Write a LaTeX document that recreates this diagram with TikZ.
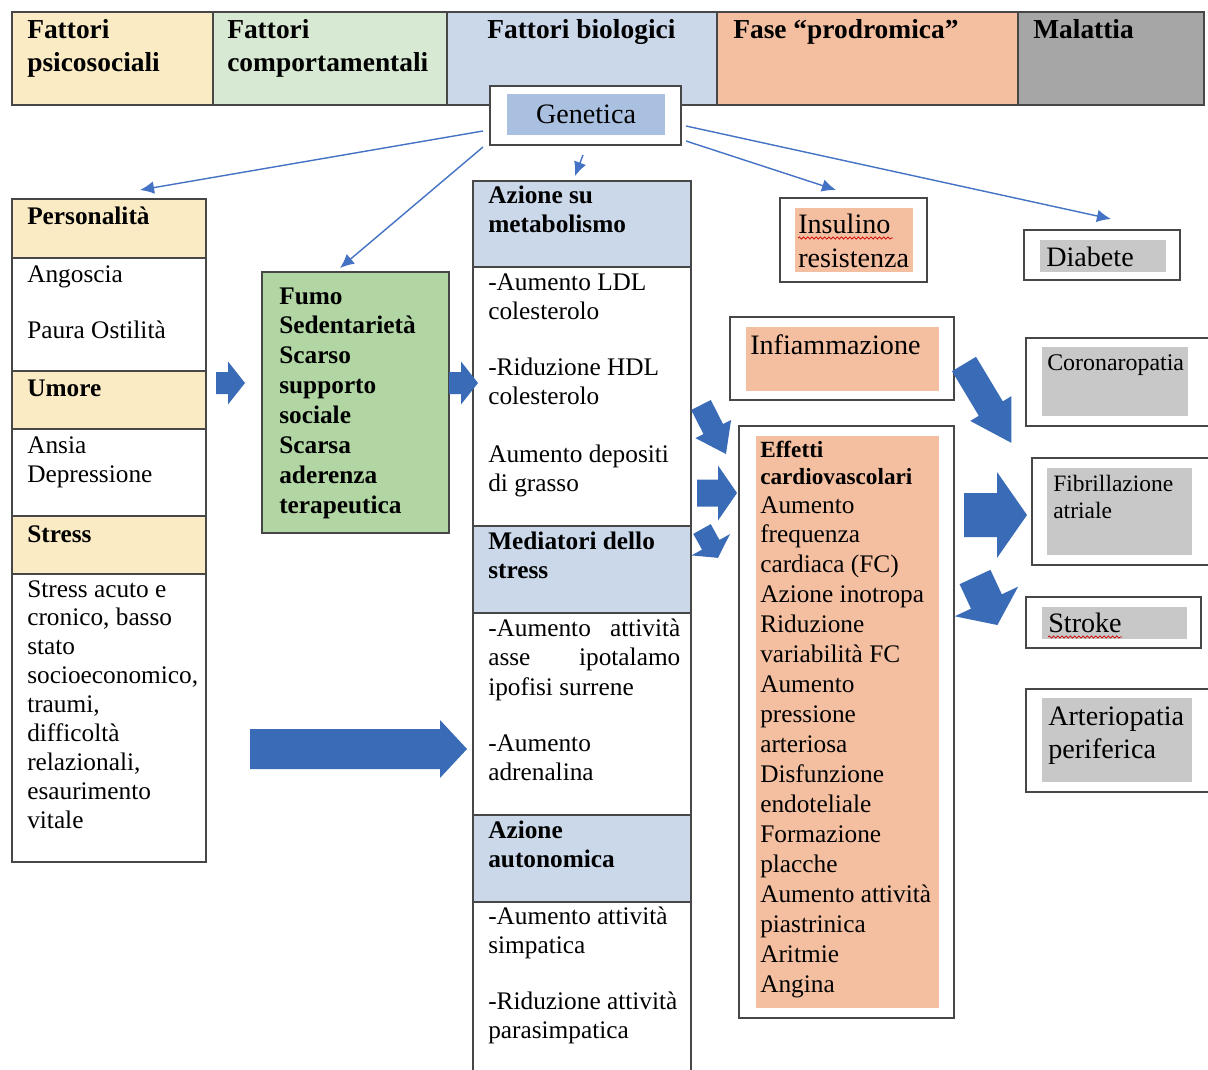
\documentclass[tikz,border=0pt]{standalone}
\usepackage{fontspec}
\setmainfont{Liberation Serif}
\usepackage{tikz}
\usetikzlibrary{positioning,calc,arrows.meta,decorations.pathmorphing}

\definecolor{psygiallo}{HTML}{FAEBC5}
\definecolor{compverde}{HTML}{D7E8D3}
\definecolor{bioblu}{HTML}{CBD8EA}
\definecolor{prodsalmone}{HTML}{F4BFA0}
\definecolor{malgrigio}{HTML}{A6A6A6}
\definecolor{fumoverde}{HTML}{B1D5A3}
\definecolor{genblu}{HTML}{A9C0E1}
\definecolor{grigiochiaro}{HTML}{C8C8C8}
\definecolor{freccia}{HTML}{4472C4}
\definecolor{blocco}{HTML}{3A6BB6}

% freccia piena: (coda), angolo, lunghezza, lunghezza punta, mezzo fusto, mezza punta
\newcommand{\frecciona}[6]{%
  \fill[blocco, shift={#1}, rotate=#2] (0,-#5) -- ({#3-#4},-#5) -- ({#3-#4},-#6)
    -- (#3,0) -- ({#3-#4},#6) -- ({#3-#4},#5) -- (0,#5) -- cycle;}

\tikzset{
  box/.style={draw=black!72, line width=1.3pt},
  txt/.style={anchor=base west, inner sep=0pt, align=flush left, text width=7cm,
    font=\fontsize{18}{21.3}\selectfont},
  txtb/.style={txt, font=\fontsize{18}{21.3}\selectfont\bfseries},
  hd/.style={txt, font=\fontsize{19.5}{22.8}\selectfont\bfseries},
  grande/.style={txt, font=\fontsize{20}{23.5}\selectfont},
  sottile/.style={-{Latex[length=10pt,width=9pt]}, freccia, line width=1pt},
  ondina/.style={red!80!black, line width=0.5pt, decorate,
    decoration={snake, amplitude=0.8pt, segment length=3pt}}
}

\begin{document}
\begin{tikzpicture}[x=0.025cm, y=-0.025cm]
  \useasboundingbox (0,0) rectangle (1208,1070);

  % intestazioni
  \fill[psygiallo] (12,12) rectangle (213,105);
  \fill[compverde] (213,12) rectangle (447,105);
  \fill[bioblu] (447,12) rectangle (717,105);
  \fill[prodsalmone] (717,12) rectangle (1018,105);
  \fill[malgrigio] (1018,12) rectangle (1204,105);
  \draw[box] (12,12) rectangle (1204,105);
  \foreach \xx in {213,447,717,1018}
    \draw[box] (\xx,12) -- (\xx,105);
  \node[hd] (hpsi) at (27,39) {Fattori\\psicosociali};
  \node[hd] (hcomp) at (227,39) {Fattori\\comportamentali};
  \node[hd] (hbio) at (487,39) {Fattori biologici};
  \node[hd] (hprod) at (733,39) {Fase “prodromica”};
  \node[hd] (hmal) at (1033,39) {Malattia};

  % genetica
  \node[box, fill=white, minimum width=4.775cm, minimum height=1.475cm] (genbox) at (585.5,115.5) {};
  \node[fill=genblu, minimum width=3.95cm, minimum height=1.025cm, inner sep=0pt,
    font=\fontsize{20}{23.5}\selectfont] (gen) at (586,114.5) {Genetica};

  % colonna psicosociale
  \fill[psygiallo] (12,199) rectangle (206,258);
  \fill[psygiallo] (12,371) rectangle (206,429);
  \fill[psygiallo] (12,516) rectangle (206,574);
  \draw[box] (12,199) rectangle (206,862);
  \foreach \yy in {258,371,429,516,574}
    \draw[box] (12,\yy) -- (206,\yy);
  \node[txtb] (pers) at (27,225) {Personalità};
  \node[txt] (ango) at (27,282) {Angoscia};
  \node[txt] (paura) at (27,338) {Paura Ostilità};
  \node[txtb] (umore) at (27,396) {Umore};
  \node[txt] (ansia) at (27,453) {Ansia\\Depressione};
  \node[txtb] (stress) at (27,542) {Stress};
  \node[txt, font=\fontsize{18}{20.6}\selectfont] (strtxt) at (27,597)
    {Stress acuto e\\cronico, basso\\stato\\socioeconomico,\\traumi,\\difficoltà\\relazionali,\\esaurimento\\vitale};

  % fattori comportamentali
  \draw[box, fill=fumoverde] (262,272) rectangle (449,533);
  \node[txtb] (fumo) at (279,304)
    {Fumo\\Sedentarietà\\Scarso\\supporto\\sociale\\Scarsa\\aderenza\\terapeutica};

  % colonna biologica
  \fill[bioblu] (473,181) rectangle (691,267);
  \fill[bioblu] (473,526) rectangle (691,613);
  \fill[bioblu] (473,815) rectangle (691,902);
  \draw[box] (473,1080) -- (473,181) -- (691,181) -- (691,1080);
  \foreach \yy in {267,526,613,815,902}
    \draw[box] (473,\yy) -- (691,\yy);
  \node[txtb, font=\fontsize{18}{20.6}\selectfont\bfseries] (meta) at (488,204) {Azione su\\metabolismo};
  \node[txt] (ldl) at (488,290) {-Aumento LDL\\colesterolo};
  \node[txt] (hdl) at (488,375) {-Riduzione HDL\\colesterolo};
  \node[txt] (grasso) at (488,462) {Aumento depositi\\di grasso};
  \node[txtb] (medi) at (488,549) {Mediatori dello\\stress};
  \node[txt, text width=4.8cm] (asse) at (488,636)
    {-Aumento\hfill attività\\asse\hfill ipotalamo\\ipofisi surrene};
  \node[txt] (adren) at (488,751) {-Aumento\\adrenalina};
  \node[txtb] (auto) at (488,838) {Azione\\autonomica};
  \node[txt] (simp) at (488,924) {-Aumento attività\\simpatica};
  \node[txt] (para) at (488,1009) {-Riduzione attività\\parasimpatica};

  % fase prodromica
  \draw[box] (780,198) rectangle (927,282);
  \fill[prodsalmone] (795,208) rectangle (913,272);
  \node[grande] (insul) at (798,234) {Insulino\\resistenza};
  \draw[ondina] (798,238) -- (893,238);
  \draw[box] (730,317) rectangle (954,400);
  \fill[prodsalmone] (746,327) rectangle (939,391);
  \node[grande] (infiam) at (750,354) {Infiammazione};
  \draw[box] (739,426) rectangle (954,1018);
  \fill[prodsalmone] (756,436) rectangle (939,1008);
  \node[txtb, font=\fontsize{16.5}{19.2}\selectfont\bfseries] (efftit) at (760,457)
    {Effetti\\cardiovascolari};
  \node[txt] (efflist) at (760,513)
    {Aumento\\frequenza\\cardiaca (FC)\\Azione inotropa\\Riduzione\\variabilità FC\\Aumento\\pressione\\arteriosa\\Disfunzione\\endoteliale\\Formazione\\placche\\Aumento attività\\piastrinica\\Aritmie\\Angina};

  % malattia
  \draw[box] (1024,230) rectangle (1180,280);
  \fill[grigiochiaro] (1040,240) rectangle (1166,272);
  \node[grande] (diab) at (1046,266) {Diabete};
  \draw[box] (1026,338) rectangle (1210,426);
  \fill[grigiochiaro] (1042,347) rectangle (1188,416);
  \node[txt, font=\fontsize{17}{20}\selectfont] (coro) at (1047,370) {Coronaropatia};
  \draw[box] (1032,458) rectangle (1210,565);
  \fill[grigiochiaro] (1047,468) rectangle (1192,555);
  \node[txt, font=\fontsize{16.7}{19.2}\selectfont] (fibr) at (1053,491) {Fibrillazione\\atriale};
  \draw[box] (1026,597) rectangle (1201,648);
  \fill[grigiochiaro] (1042,607) rectangle (1187,639);
  \node[grande] (strk) at (1048,632) {Stroke};
  \draw[ondina] (1048,637) -- (1122,637);
  \draw[box] (1026,689) rectangle (1210,792);
  \fill[grigiochiaro] (1042,698) rectangle (1192,782);
  \node[grande] (arter) at (1048,725) {Arteriopatia\\periferica};

  % frecce sottili dalla genetica
  \coordinate (gsx1) at (483,131);
  \coordinate (gsx2) at (483,147);
  \coordinate (ggiu) at (583,155);
  \coordinate (gdx1) at (686,141);
  \coordinate (gdx2) at (686,126);
  \coordinate (apers) at (140,190);
  \coordinate (afumo) at (340,268);
  \coordinate (ameta) at (575,176);
  \coordinate (ainsul) at (836,190);
  \coordinate (adiab) at (1111,219);
  \draw[sottile] (gsx1) -- (apers);
  \draw[sottile] (gsx2) -- (afumo);
  \draw[sottile] (ggiu) -- (ameta);
  \draw[sottile] (gdx1) -- (ainsul);
  \draw[sottile] (gdx2) -- (adiab);

  % frecce piene
  \frecciona{(216,383)}{0}{29}{17}{11}{21.5}
  \frecciona{(449,383)}{0}{29}{17}{11}{21.5}
  \frecciona{(250,749)}{0}{217}{27}{20}{29}
  \frecciona{(697,493)}{0}{40}{19}{13.5}{27.5}
  \frecciona{(964,515)}{0}{63}{30}{22}{43}
  \frecciona{(701,405)}{-63}{55}{28}{11}{20}
  \frecciona{(702,529)}{-61}{33}{15}{10}{22}
  \frecciona{(964,364)}{-59}{92}{40}{14}{24}
  \frecciona{(975,577)}{-65}{53}{26}{17}{35}
\end{tikzpicture}
\end{document}
